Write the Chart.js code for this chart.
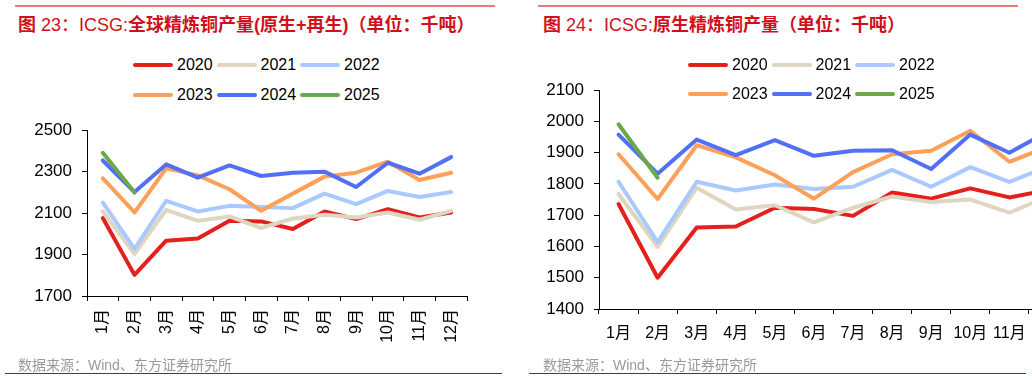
<!DOCTYPE html>
<html><head><meta charset="utf-8">
<script src="https://cdn.jsdelivr.net/npm/chart.js@4/dist/chart.umd.min.js"></script>
<style>
html,body{margin:0;padding:0;width:1032px;height:380px;overflow:hidden;background:#fff;font-family:"Liberation Sans","Noto Sans CJK SC",sans-serif;}
.abs{position:absolute;}
.title{position:absolute;font-size:18px;color:#d0101b;font-weight:bold;white-space:nowrap;font-family:"Liberation Sans","Noto Sans CJK SC",sans-serif;}
.title .n{font-weight:normal;}
.src{position:absolute;font-size:14px;color:#999;white-space:nowrap;}
.lg{position:absolute;font-size:16px;color:#000;white-space:nowrap;line-height:16px;}
.sw{position:absolute;width:40px;height:4px;border-radius:2px;}
</style></head>
<body>
<div class="abs" style="left:15px;top:5px;width:480px;height:2px;background:#e87a7a"></div>
<div class="abs" style="left:538px;top:5px;width:480px;height:2px;background:#e87a7a"></div>
<div class="title" style="left:18px;top:10px">图<span class="n"> 23：ICSG:</span>全球精炼铜产量(原生+再生)（单位：千吨）</div>
<div class="title" style="left:543px;top:10px">图<span class="n"> 24：ICSG:</span>原生精炼铜产量（单位：千吨）</div>
<div class="abs" style="left:0;top:110px;width:480px;height:250px"><canvas id="c1"></canvas></div>
<div class="abs" style="left:516px;top:70px;width:560px;height:280px"><canvas id="c2"></canvas></div>
<div id="leg"></div>
<div class="src" style="left:18px;top:354px">数据来源：Wind、东方证券研究所</div>
<div class="src" style="left:543px;top:354px">数据来源：Wind、东方证券研究所</div>
<div class="abs" style="left:5px;top:373px;width:497px;height:1px;background:#d40000"></div>
<div class="abs" style="left:529px;top:373px;width:497px;height:1px;background:#d40000"></div>
<script>
const months = ['1月','2月','3月','4月','5月','6月','7月','8月','9月','10月','11月','12月'];
const years = ['2020','2021','2022','2023','2024','2025'];
const colors = ['#e3211c','#ded6c0','#a9c9ff','#ffa05a','#5170f7','#6aa84a'];

// 图23 全球精炼铜产量(原生+再生)
const total2020 = [2076,1802,1967,1978,2063,2060,2023,2108,2071,2119,2079,2103];
const total2021 = [2108,1903,2116,2063,2084,2028,2074,2092,2079,2103,2068,2111];
const total2022 = [2151,1927,2159,2108,2135,2130,2124,2194,2143,2207,2178,2202];
const total2023 = [2268,2103,2316,2282,2215,2111,2194,2276,2295,2348,2260,2295];
const total2024 = [2354,2202,2335,2271,2330,2279,2295,2300,2226,2343,2290,2370];
const total2025 = [2391,2199];
const totalTicks = [1700,1900,2100,2300,2500];

// 图24 原生精炼铜产量
const prim2020 = [1736,1500,1661,1664,1724,1720,1698,1773,1753,1786,1757,1781];
const prim2021 = [1768,1599,1788,1718,1732,1677,1724,1760,1742,1750,1708,1761];
const prim2022 = [1807,1614,1807,1779,1798,1784,1791,1845,1791,1854,1807,1856];
const prim2023 = [1895,1752,1924,1885,1828,1753,1838,1895,1906,1970,1871,1920];
const prim2024 = [1958,1833,1942,1892,1940,1890,1906,1908,1848,1958,1900,1969];
const prim2025 = [1991,1820];
const primTicks = [1400,1500,1600,1700,1800,1900,2000,2100];

const FONT = '"Liberation Sans","Noto Sans CJK SC",sans-serif';

function build(id, series, ticks, opt){
  new Chart(document.getElementById(id), {
    type:'line',
    data:{
      labels: months,
      datasets: series.map((d,i)=>({
        label: years[i], data: d, borderColor: colors[i], backgroundColor: colors[i],
        borderWidth: 4, pointRadius: 0, tension: 0, fill:false, order: series.length - i,
        borderJoinStyle:'round', borderCapStyle:'round'
      }))
    },
    options:{
      responsive:true, maintainAspectRatio:false, animation:false,
      layout:{padding:opt.padding},
      plugins:{legend:{display:false}, tooltip:{enabled:false}},
      scales:{
        x:{
          offset:true,
          grid:{display:true, offset:true, drawOnChartArea:false, drawTicks:true, tickLength:5, color:'#000'},
          border:{display:true, color:'#000', width:1},
          ticks:{color:'#000', font:{family:FONT, size:16}, autoSkip:false,
                 minRotation:opt.rot, maxRotation:opt.rot, padding:opt.xpad},
          afterFit:(s)=>{s.height = opt.xh;}
        },
        y:{
          min: ticks[0], max: ticks[ticks.length-1],
          afterBuildTicks:(s)=>{s.ticks = ticks.map(v=>({value:v}));},
          grid:{display:true, drawOnChartArea:false, drawTicks:true, tickLength:5, color:'#000'},
          border:{display:true, color:'#000', width:1},
          ticks:{color:'#000', font:{family:FONT, size:17}, padding:10, callback:(v)=>String(v)},
          afterFit:(s)=>{s.width = opt.yw;}
        }
      }
    }
  });
}

build('c1', [total2020,total2021,total2022,total2023,total2024,total2025], totalTicks,
  {padding:{top:19,right:13,left:0,bottom:0}, yw:87, xh:64, rot:90, xpad:8});
build('c2', [prim2020,prim2021,prim2022,prim2023,prim2024,prim2025], primTicks,
  {padding:{top:14,right:8,left:0,bottom:0}, yw:83, xh:41, rot:0, xpad:10});

// HTML legends
const leg = document.getElementById('leg');
function legend(x0, rowsY){
  years.forEach((y,i)=>{
    const col = i%3, row = Math.floor(i/3);
    const x = x0 + col*83.5, cy = rowsY[row];
    const sw = document.createElement('div');
    sw.className='sw'; sw.style.left = x+'px'; sw.style.top = (cy-2)+'px'; sw.style.background = colors[i];
    leg.appendChild(sw);
    const t = document.createElement('div');
    t.className='lg'; t.textContent = y; t.style.left = (x+44)+'px'; t.style.top = (cy-8)+'px';
    leg.appendChild(t);
  });
}
legend(133, [65, 95]);
legend(688, [65, 94]);
</script>
</body></html>
